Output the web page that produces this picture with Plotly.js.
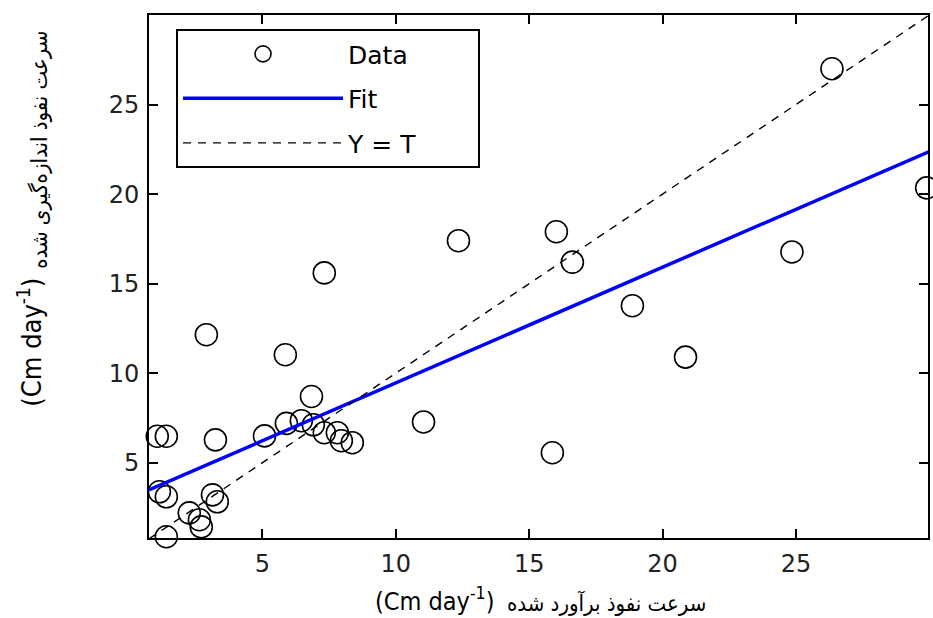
<!DOCTYPE html>
<html>
<head>
<meta charset="utf-8">
<script src="https://cdn.plot.ly/plotly-3.0.1.min.js"></script>
<style>
  html, body { margin: 0; padding: 0; background: #fff; }
  #chart { width: 933px; height: 618px; }
</style>
</head>
<body>
<div id="chart"></div>
<script>
// Estimated infiltration rate (x) vs measured infiltration rate (y), Cm day^-1
const estX = [26.35, 29.9, 12.35, 16.02, 16.62, 24.85, 18.87, 7.32, 2.9, 5.86,
              20.86, 6.84, 11.04, 5.9, 6.46, 6.91, 7.32, 7.81, 7.96, 8.37,
              1.06, 1.4, 3.24, 5.08, 15.87, 1.14, 1.4, 3.13, 3.31, 2.26,
              2.64, 2.71, 1.4];
const measY = [27.0, 20.35, 17.4, 17.9, 16.2, 16.77, 13.77, 15.6, 12.15, 11.03,
               10.9, 8.7, 7.28, 7.2, 7.35, 7.12, 6.68, 6.68, 6.23, 6.12,
               6.48, 6.48, 6.28, 6.5, 5.56, 3.38, 3.1, 3.21, 2.82, 2.2,
               1.82, 1.42, 0.87];
const fitX = [0.75, 30];
const fitY = [3.48, 22.38];
const idX = [0.75, 30];
const idY = [0.75, 30];
const tickVals = [5, 10, 15, 20, 25];
const tickText = ['5', '10', '15', '20', '25'];
const legendNames = ['Data', 'Fit', 'Y = T'];

const xTitleLatin = '(Cm day<sup>-1</sup>)';
const xTitlePersian = 'سرعت نفوذ برآورد شده';
const yTitleLatin = '(Cm day<sup>-1</sup>)';
const yTitlePersian = 'سرعت نفوذ اندازه‌گیری شده';

const tickFont = { family: 'DejaVu Sans, sans-serif', size: 24, color: '#222' };
const latinFontX = { family: 'DejaVu Sans Condensed, sans-serif', size: 25, color: '#000' };
const latinFontY = { family: 'DejaVu Sans Condensed, sans-serif', size: 27, color: '#000' };
const persianFont = { family: 'DejaVu Sans Condensed, DejaVu Sans, sans-serif', size: 22, color: '#000' };

const traces = [
  {
    x: estX, y: measY, name: legendNames[0], type: 'scatter', mode: 'markers',
    legendgroup: 'a', cliponaxis: false,
    marker: { symbol: 'circle-open', size: 22, color: '#000', line: { width: 1.6, color: '#000' } }
  },
  {
    x: fitX, y: fitY, name: legendNames[1], type: 'scatter', mode: 'lines',
    legendgroup: 'b',
    line: { color: '#0000FF', width: 3.5 }
  },
  {
    x: idX, y: idY, name: legendNames[2] + '\u00a0\u00a0\u00a0\u00a0\u00a0\u00a0\u00a0', type: 'scatter', mode: 'lines',
    legendgroup: 'c',
    line: { color: '#000', width: 1.4, dash: '8px,7px' }
  }
];

const axisCommon = {
  showgrid: false, zeroline: false,
  showline: true, linecolor: '#000', linewidth: 2,
  mirror: 'ticks', ticks: 'inside', ticklen: 9, tickwidth: 2, tickcolor: '#000',
  tickmode: 'array', tickvals: tickVals, ticktext: tickText,
  tickfont: tickFont
};

const layout = {
  width: 933, height: 618,
  margin: { l: 149, r: 5, t: 15, b: 80 },
  paper_bgcolor: '#fff', plot_bgcolor: '#fff',
  showlegend: true,
  xaxis: Object.assign({}, axisCommon, { range: [0.75, 29.95], ticklabelstandoff: 3 }),
  yaxis: Object.assign({}, axisCommon, { range: [0.8, 30], ticklabelstandoff: 3 }),
  legend: {
    x: 0.0347, y: 0.973, xanchor: 'left', yanchor: 'top',
    bgcolor: '#fff', bordercolor: '#000', borderwidth: 2,
    font: { family: 'DejaVu Sans, sans-serif', size: 25, color: '#000' },
    itemwidth: 160, traceorder: 'grouped', tracegroupgap: 9
  },
  annotations: [
    { text: xTitleLatin, xref: 'paper', yref: 'paper', x: 0.366, y: -0.118,
      xanchor: 'center', yanchor: 'middle', showarrow: false, font: latinFontX },
    { text: xTitlePersian, xref: 'paper', yref: 'paper', x: 0.587, y: -0.124,
      xanchor: 'center', yanchor: 'middle', showarrow: false, font: persianFont },
    { text: yTitleLatin, xref: 'paper', yref: 'paper', x: -0.153, y: 0.375, textangle: -90,
      xanchor: 'center', yanchor: 'middle', showarrow: false, font: latinFontY },
    { text: yTitlePersian, xref: 'paper', yref: 'paper', x: -0.14, y: 0.742, textangle: -90,
      xanchor: 'center', yanchor: 'middle', showarrow: false, font: persianFont }
  ]
};

Plotly.newPlot('chart', traces, layout, { displayModeBar: false, staticPlot: true });
</script>
</body>
</html>
